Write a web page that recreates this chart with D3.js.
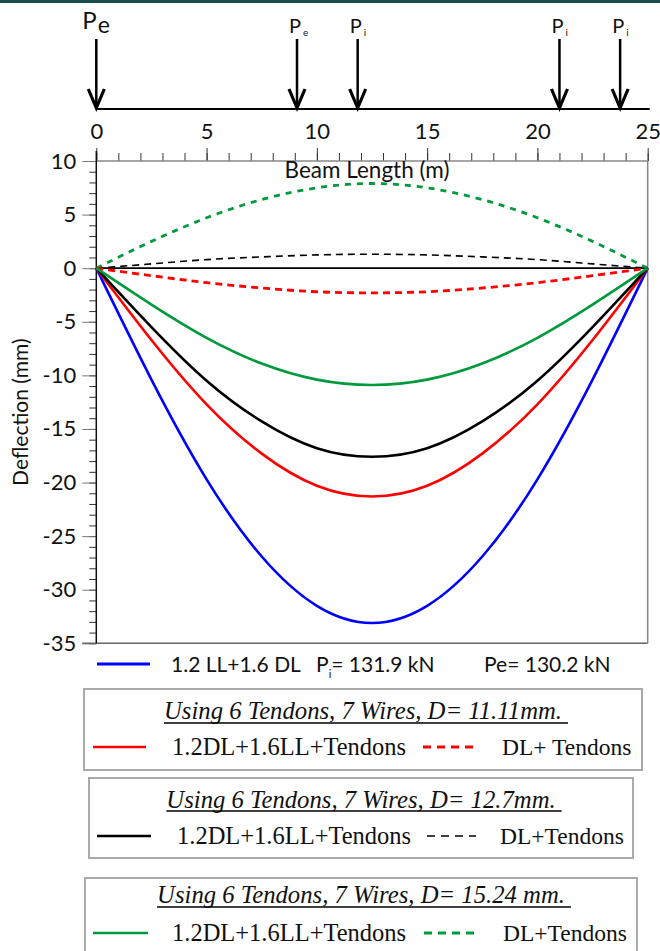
<!DOCTYPE html>
<html>
<head>
<meta charset="utf-8">
<script src="https://cdn.jsdelivr.net/npm/d3@7"></script>
<style>
  html, body { margin: 0; padding: 0; background: #fff; }
  svg { display: block; }
</style>
</head>
<body>
<div id="chart"></div>
<script>
// beam positions (m) where deflections were read
const xPos = [0, 2.5, 5, 7.5, 10, 12.5, 15, 17.5, 20, 22.5, 25];

// deflections (mm)
const factoredNoTendons = [0, -10.4, -19.7, -26.9, -31.5, -33.1, -31.5, -26.9, -19.7, -10.4, 0];
const factored1111 = [0, -6.7, -12.7, -17.3, -20.3, -21.3, -20.3, -17.3, -12.7, -6.7, 0];
const service1111 = [0, -0.7, -1.35, -1.85, -2.2, -2.3, -2.2, -1.85, -1.35, -0.7, 0];
const factored127 = [0, -5.5, -10.5, -14.3, -16.8, -17.6, -16.8, -14.3, -10.5, -5.5, 0];
const service127 = [0, 0.4, 0.8, 1.05, 1.24, 1.3, 1.24, 1.05, 0.8, 0.4, 0];
const factored1524 = [0, -3.4, -6.5, -8.9, -10.4, -10.9, -10.4, -8.9, -6.5, -3.4, 0];
const service1524 = [0, 2.5, 4.7, 6.4, 7.5, 7.9, 7.5, 6.4, 4.7, 2.5, 0];
const baseLine = [0, 0, 0, 0, 0, 0, 0, 0, 0, 0, 0];

// tendon forces along the beam
const loadX = [0, 9.1, 11.85, 21, 23.75];
const loadSub = ['e', 'e', 'i', 'i', 'i'];

const xTicksMajor = [0, 5, 10, 15, 20, 25];
const yTicksMajor = [10, 5, 0, -5, -10, -15, -20, -25, -30, -35];

const boxTitles = [
    'Using 6 Tendons, 7 Wires, D= 11.11mm.',
    'Using 6 Tendons, 7 Wires, D= 12.7mm.',
    'Using 6 Tendons, 7 Wires, D= 15.24 mm.'
];
const boxSolidLabels = ['1.2DL+1.6LL+Tendons', '1.2DL+1.6LL+Tendons', '1.2DL+1.6LL+Tendons'];
const boxDashLabels = ['DL+ Tendons', 'DL+Tendons', 'DL+Tendons'];

const W = 660, H = 951;
const sans = 'Lato, "Open Sans", sans-serif';
const serif = '"Liberation Serif", "Times New Roman", serif';

const styles = {
    blue: { color: '#0000ff', width: 2.6, dash: null },
    red: { color: '#ff0000', width: 2.6, dash: null },
    redD: { color: '#ff0000', width: 2.8, dash: '7,5' },
    black: { color: '#000000', width: 2.6, dash: null },
    blackD: { color: '#000000', width: 1.6, dash: '7,5' },
    green: { color: '#00993c', width: 2.6, dash: null },
    greenD: { color: '#00993c', width: 2.8, dash: '6,6' },
    zero: { color: '#000000', width: 1.8, dash: null }
};

const series = [
    { v: baseLine, s: styles.zero },
    { v: service1524, s: styles.greenD },
    { v: service127, s: styles.blackD },
    { v: service1111, s: styles.redD },
    { v: factoredNoTendons, s: styles.blue },
    { v: factored1111, s: styles.red },
    { v: factored127, s: styles.black },
    { v: factored1524, s: styles.green }
];

const svg = d3.select('#chart').append('svg')
    .attr('width', W)
    .attr('height', H)
    .style('font-family', sans);

svg.append('rect').attr('width', W).attr('height', H).attr('fill', '#fff');
svg.append('rect').attr('width', W).attr('height', 3).attr('fill', '#1d4b4b');

const x = d3.scaleLinear().domain([0, 25]).range([96.3, 647.7]);
const y = d3.scaleLinear().domain([-35, 10]).range([643.3, 161]);

// ---- beam with tendon forces
const beamY = 109;
svg.append('line')
    .attr('x1', x(0)).attr('x2', x(25) + 2)
    .attr('y1', beamY).attr('y2', beamY)
    .attr('stroke', '#000').attr('stroke-width', 2);

loadX.forEach((lx, i) => {
    const px = x(lx);
    svg.append('line')
        .attr('x1', px).attr('x2', px)
        .attr('y1', 39).attr('y2', beamY - 2)
        .attr('stroke', '#000').attr('stroke-width', 2.5);
    svg.append('path')
        .attr('d', `M${px - 8},${beamY - 20} L${px},${beamY - 1} L${px + 8},${beamY - 20}`)
        .attr('fill', 'none')
        .attr('stroke', '#000').attr('stroke-width', 3.2)
        .attr('stroke-linejoin', 'miter');

    const big = i === 0;
    const t = svg.append('text')
        .attr('x', big ? px - 14 : px - 8)
        .attr('y', big ? 29 : 33)
        .style('font-size', big ? '24px' : '20px')
        .attr('fill', '#111');
    t.append('tspan').text('P');
    t.append('tspan')
        .attr('dy', big ? 4 : 3)
        .attr('dx', big ? 1 : 2)
        .style('font-size', big ? '23px' : '10px')
        .text(loadSub[i]);
});

// ---- axes
const g = svg.append('g');

function styleAxis(sel, col) {
    sel.selectAll('.tick line').attr('stroke', col);
    sel.selectAll('.tick text').attr('fill', '#111').style('font-family', sans).style('font-size', '22px');
}

const topMinor = g.append('g').attr('transform', `translate(0,${y(10)})`)
    .call(d3.axisTop(x).tickValues(d3.range(0, 26, 1)).tickSize(8).tickFormat(''));
topMinor.select('.domain').remove();
styleAxis(topMinor, '#333');

const topMajor = g.append('g').attr('transform', `translate(0,${y(10)})`)
    .call(d3.axisTop(x).tickValues(xTicksMajor).tickSize(13).tickPadding(9).tickFormat(d => String(d)));
topMajor.select('.domain').remove();
styleAxis(topMajor, '#333');

const leftMinor = g.append('g').attr('transform', `translate(${x(0)},0)`)
    .call(d3.axisLeft(y).tickValues(d3.range(-35, 11, 1)).tickSize(7).tickFormat(''));
leftMinor.select('.domain').remove();
styleAxis(leftMinor, '#333');

const leftMajor = g.append('g').attr('transform', `translate(${x(0)},0)`)
    .call(d3.axisLeft(y).tickValues(yTicksMajor).tickSize(14).tickPadding(6).tickFormat(d => String(d)));
leftMajor.select('.domain').remove();
styleAxis(leftMajor, '#777');

// frame
g.append('line').attr('x1', x(0)).attr('x2', x(25)).attr('y1', y(10)).attr('y2', y(10))
    .attr('stroke', '#888').attr('stroke-width', 1.5);
g.append('line').attr('x1', x(0) - 14).attr('x2', x(25)).attr('y1', y(-35)).attr('y2', y(-35))
    .attr('stroke', '#666').attr('stroke-width', 1.5);
g.append('line').attr('x1', x(25)).attr('x2', x(25)).attr('y1', y(10)).attr('y2', y(-35))
    .attr('stroke', '#888').attr('stroke-width', 1.5);
g.append('line').attr('x1', x(0)).attr('x2', x(0)).attr('y1', y(10) - 10).attr('y2', y(-35))
    .attr('stroke', '#111').attr('stroke-width', 1.5);

svg.append('text')
    .attr('x', 367).attr('y', 178)
    .attr('text-anchor', 'middle')
    .style('font-size', '22.5px').attr('fill', '#111')
    .text('Beam Length (m)');

svg.append('text')
    .attr('transform', `translate(28,${(y(10) + y(-35)) / 2 + 10}) rotate(-90)`)
    .attr('text-anchor', 'middle')
    .style('font-size', '21px').attr('fill', '#111')
    .text('Deflection (mm)');

// ---- curves
const line = d3.line()
    .x((d, i) => x(xPos[i]))
    .y(d => y(d))
    .curve(d3.curveNatural);

series.forEach(sr => {
    svg.append('path')
        .datum(sr.v)
        .attr('d', line)
        .attr('fill', 'none')
        .attr('stroke', sr.s.color)
        .attr('stroke-width', sr.s.width)
        .attr('stroke-dasharray', sr.s.dash);
});

// ---- legend
svg.append('line').attr('x1', 97).attr('x2', 150).attr('y1', 664).attr('y2', 664)
    .attr('stroke', styles.blue.color).attr('stroke-width', 3);
svg.append('text').attr('x', 171).attr('y', 672)
    .style('font-size', '21px').attr('fill', '#111')
    .text('1.2 LL+1.6 DL');
const lt = svg.append('text').attr('x', 316).attr('y', 672)
    .style('font-size', '21px').attr('fill', '#111');
lt.append('tspan').text('P');
lt.append('tspan').attr('dy', 6).style('font-size', '11px').text('i');
lt.append('tspan').attr('dy', -6).text('= 131.9 kN');
svg.append('text').attr('x', 484).attr('y', 672)
    .style('font-size', '21px').attr('fill', '#111')
    .text('Pe= 130.2 kN');

const boxes = [
    { x0: 84, x1: 642, y0: 689, y1: 770, tb: 719, ul: 723, row: 747, lx: [93, 146], tx: 172, dx: [423, 473], dtx: 502, s: styles.red, d: styles.redD },
    { x0: 89, x1: 633, y0: 778, y1: 858, tb: 808, ul: 811, row: 836, lx: [97, 151], tx: 177, dx: [427, 476], dtx: 500, s: styles.black, d: styles.blackD },
    { x0: 85, x1: 637, y0: 878, y1: 960, tb: 903, ul: 907, row: 933, lx: [93, 148], tx: 172, dx: [424, 474], dtx: 503, s: styles.green, d: styles.greenD }
];

boxes.forEach((b, i) => {
    const bg = svg.append('g');
    bg.append('rect')
        .attr('x', b.x0).attr('y', b.y0)
        .attr('width', b.x1 - b.x0).attr('height', b.y1 - b.y0)
        .attr('fill', '#fff').attr('stroke', '#aaa').attr('stroke-width', 2);
    const title = bg.append('text')
        .attr('x', (b.x0 + b.x1) / 2).attr('y', b.tb)
        .attr('text-anchor', 'middle')
        .style('font-family', serif).style('font-style', 'italic').style('font-size', '24.7px')
        .attr('fill', '#111')
        .text(boxTitles[i]);
    const bb = title.node().getBBox();
    bg.append('line')
        .attr('x1', bb.x).attr('x2', bb.x + bb.width + 6)
        .attr('y1', b.ul).attr('y2', b.ul)
        .attr('stroke', '#000').attr('stroke-width', 1.5);

    bg.append('line').attr('x1', b.lx[0]).attr('x2', b.lx[1]).attr('y1', b.row).attr('y2', b.row)
        .attr('stroke', b.s.color).attr('stroke-width', b.s.width);
    bg.append('line').attr('x1', b.dx[0]).attr('x2', b.dx[1]).attr('y1', b.row).attr('y2', b.row)
        .attr('stroke', b.d.color).attr('stroke-width', b.d.width).attr('stroke-dasharray', '8,6');
    bg.append('text').attr('x', b.tx).attr('y', b.row + 8)
        .style('font-family', serif).style('font-size', '24.5px').attr('fill', '#111')
        .text(boxSolidLabels[i]);
    bg.append('text').attr('x', b.dtx).attr('y', b.row + 8)
        .style('font-family', serif).style('font-size', '23.5px').attr('fill', '#111')
        .text(boxDashLabels[i]);
});
</script>
</body>
</html>
